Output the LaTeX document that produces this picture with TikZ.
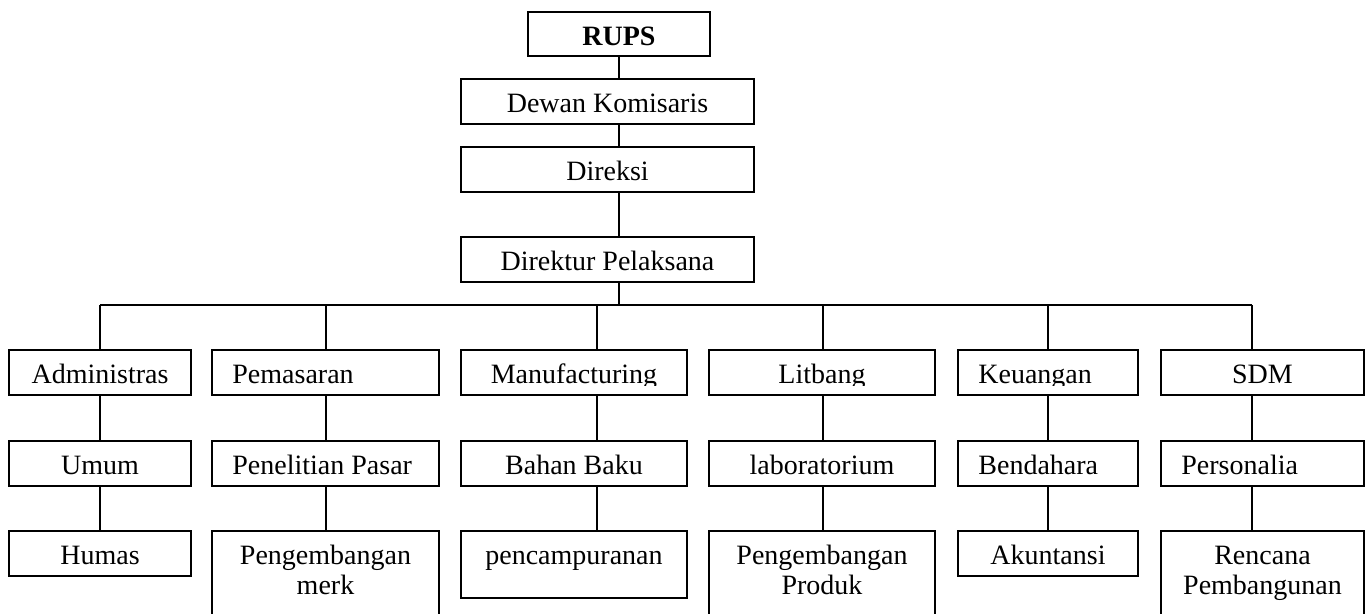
\documentclass[tikz,border=0pt]{standalone}
\usepackage{fontspec}
\setmainfont{Liberation Serif}
\usetikzlibrary{fit,calc}

% A framed box of the chart, given by its corners (x1,y1)-(x2,y2).
\newcommand\orgbox[5]{%
  \node[frame, fit={(#2,#3) (#4,#5)}] (#1) {};}
% Its title, centred, first baseline 34 units below the top edge.
\newcommand\orglabel[2]{%
  \node[lbl, anchor=base] (#1-t) at ($(#1.north)+(0,34)$) {#2};}
% Its title, flush left inside the box.
\newcommand\orglabelL[2]{%
  \node[lbl, anchor=base west] (#1-t) at ($(#1.north west)+(20,34)$) {#2};}
\newcommand\twolines[2]{\begin{tabular}[t]{@{}c@{}}#1\\#2\end{tabular}}

\begin{document}
\begin{tikzpicture}[x=0.5pt,y=-0.5pt,
  frame/.style={draw, line width=0.9pt, inner sep=0pt, outer sep=0pt},
  lbl/.style={inner sep=0pt, font=\fontsize{14}{15}\selectfont},
  link/.style={line width=0.9pt}]
\useasboundingbox (0,0) rectangle (1367,614);
\clip (0,0) rectangle (1367,614);

% top of the hierarchy
\orgbox{rups}{528}{12}{710}{56}       \orglabel{rups}{\textbf{RUPS}}
\orgbox{dewan}{461}{79}{754}{124}     \orglabel{dewan}{Dewan Komisaris}
\orgbox{direksi}{461}{147}{754}{192}  \orglabel{direksi}{Direksi}
\orgbox{dirut}{461}{237}{754}{282}    \orglabel{dirut}{Direktur Pelaksana}

% departments
\orgbox{adm}{9}{350}{191}{395}
\orgbox{pms}{212}{350}{439}{395}
\orgbox{man}{461}{350}{687}{395}
\orgbox{lit}{709}{350}{935}{395}
\orgbox{keu}{958}{350}{1138}{395}
\orgbox{sdm}{1161}{350}{1364}{395}
% department titles are cut off just below their baseline
\begin{scope}
  \clip (0,340) rectangle (1367,386);
  \orglabel{adm}{Administras}
  \orglabelL{pms}{Pemasaran}
  \orglabel{man}{Manufacturing}
  \orglabel{lit}{Litbang}
  \orglabelL{keu}{Keuangan}
  \orglabel{sdm}{SDM}
\end{scope}

% sections
\orgbox{umum}{9}{441}{191}{486}       \orglabel{umum}{Umum}
\orgbox{pen}{212}{441}{439}{486}      \orglabelL{pen}{Penelitian Pasar}
\orgbox{bahan}{461}{441}{687}{486}    \orglabel{bahan}{Bahan Baku}
\orgbox{lab}{709}{441}{935}{486}      \orglabel{lab}{laboratorium}
\orgbox{bend}{958}{441}{1138}{486}    \orglabelL{bend}{Bendahara}
\orgbox{pers}{1161}{441}{1364}{486}   \orglabelL{pers}{Personalia}

% sub-sections
\orgbox{humas}{9}{531}{191}{576}      \orglabel{humas}{Humas}
\orgbox{merk}{212}{531}{439}{640}     \orglabel{merk}{\twolines{Pengembangan}{merk}}
\orgbox{campur}{461}{531}{687}{598}   \orglabel{campur}{pencampuranan}
\orgbox{produk}{709}{531}{935}{640}   \orglabel{produk}{\twolines{Pengembangan}{Produk}}
\orgbox{akun}{958}{531}{1138}{576}    \orglabel{akun}{Akuntansi}
\orgbox{renc}{1161}{531}{1364}{640}   \orglabel{renc}{\twolines{Rencana}{Pembangunan}}

% vertical trunk and horizontal bus
\coordinate (trunk) at (619,0);
\coordinate (busL) at (100,305);
\coordinate (busR) at (1252,305);
\draw[link] (rups.south -| trunk) -- (dewan.north -| trunk);
\draw[link] (dewan.south -| trunk) -- (direksi.north -| trunk);
\draw[link] (direksi.south -| trunk) -- (dirut.north -| trunk);
\draw[link] (dirut.south -| trunk) -- (busL -| trunk);
\draw[link] (busL) -- (busR);

% drop lines of each column
\foreach \x/\a/\b/\c in {100/adm/umum/humas, 326/pms/pen/merk, 597/man/bahan/campur,
                         823/lit/lab/produk, 1048/keu/bend/akun, 1252/sdm/pers/renc}{
  \coordinate (col) at (\x,0);
  \draw[link] (busL -| col) -- (\a.north -| col);
  \draw[link] (\a.south -| col) -- (\b.north -| col);
  \draw[link] (\b.south -| col) -- (\c.north -| col);
}
\end{tikzpicture}
\end{document}
